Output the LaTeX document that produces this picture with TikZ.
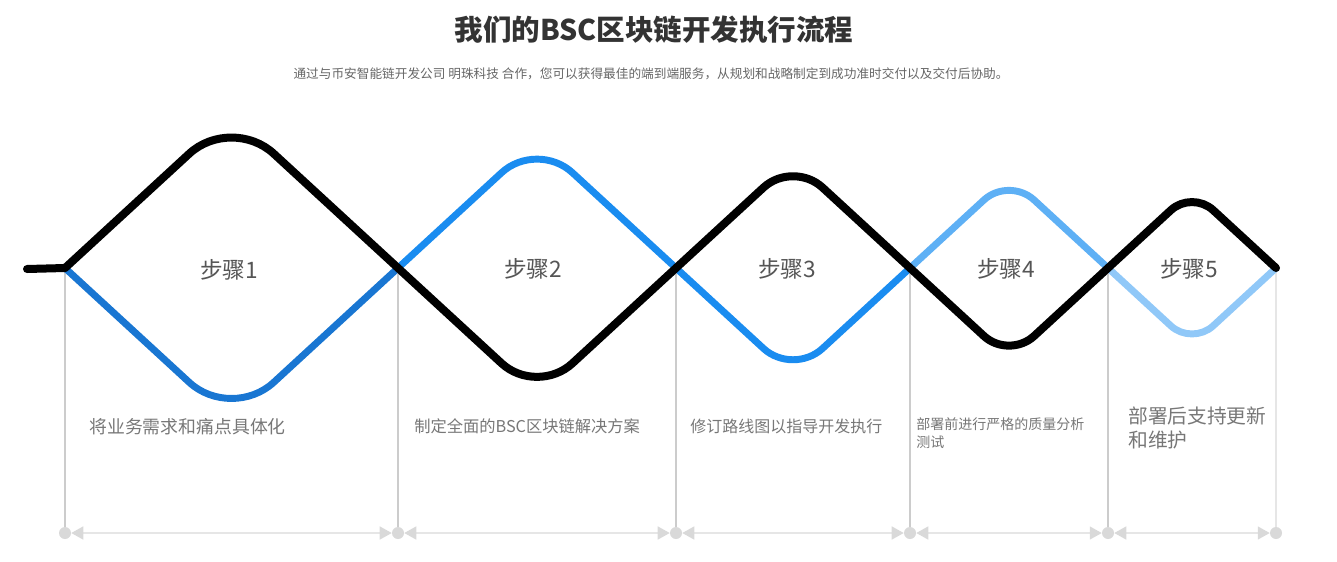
\documentclass[tikz,border=0pt]{standalone}
\usepackage{fontspec}
\setmainfont{Noto Sans CJK SC}
\usetikzlibrary{arrows.meta,calc}
\definecolor{blueA}{HTML}{1976D2}
\definecolor{blueB}{HTML}{1A8CF0}
\definecolor{blueC}{HTML}{5EB0F5}
\definecolor{blueD}{HTML}{90C8F8}
\definecolor{titlec}{HTML}{333333}
\definecolor{subc}{HTML}{666666}
\definecolor{stepc}{HTML}{555555}
\definecolor{descc}{HTML}{777777}
\definecolor{vgray}{HTML}{CCCCCC}
\definecolor{axgray}{HTML}{E6E6E6}
\definecolor{dotgray}{HTML}{D9D9D9}
\tikzset{
  wave/.style={line width=6pt, line cap=round, line join=round},
  bwave/.style={line width=5.2pt, line cap=round, line join=round},
  vline/.style={draw=vgray, line width=0.8pt},
  dot/.style={circle, fill=dotgray, minimum size=9pt, inner sep=0pt},
  axis/.style={draw=axgray, line width=1.1pt,
    {Triangle[length=9pt,width=9.75pt,color=dotgray,fill=dotgray]}-{Triangle[length=9pt,width=9.75pt,color=dotgray,fill=dotgray]}},
  steplabel/.style={text=stepc, font=\fontsize{17pt}{20pt}\selectfont, inner sep=0pt},
  desc/.style={text=descc, anchor=west, align=left, inner sep=0pt},
}
\begin{document}
\begin{tikzpicture}[x=0.75pt,y=-0.75pt]
\useasboundingbox (0,0) rectangle (1337,561);
% key points
\coordinate (s) at (27,269);
\coordinate (c0) at (65,268);
\coordinate (c1) at (398,268);
\coordinate (c2) at (676,268);
\coordinate (c3) at (910,268);
\coordinate (c4) at (1108,268);
\coordinate (c5) at (1276,268);
\coordinate (t1) at (231.5,114.8);  \coordinate (b1) at (231.5,421.2);
\coordinate (t2) at (537,140.1);    \coordinate (b2) at (537,395.9);
\coordinate (t3) at (793,160.4);    \coordinate (b3) at (793,375.6);
\coordinate (t4) at (1009,176.9);   \coordinate (b4) at (1009,359.1);
\coordinate (t5) at (1192,190.7);   \coordinate (b5) at (1192,345.3);

% axis dots
\foreach \i/\x in {1/65,2/398,3/676,4/910,5/1108,6/1276}
  \node[dot] (d\i) at (\x,533) {};
% vertical guides
\draw[vline] (c0) -- (d1);
\draw[vline] (c1) -- (d2);
\draw[vline] (c2) -- (d3);
\draw[vline] (c3) -- (d4);
\draw[vline] (c4) -- (d5);
\draw[vline, draw=axgray] (c5) -- (d6);
% axis segments
\draw[axis] (d1) -- (d2);
\draw[axis] (d2) -- (d3);
\draw[axis] (d3) -- (d4);
\draw[axis] (d4) -- (d5);
\draw[axis] (d5) -- (d6);

% blue waves
\draw[bwave, blueA, rounded corners=43pt] (c0) -- (b1) -- (c1);
\draw[bwave, blueB, rounded corners=36pt] (c1) -- (t2) -- (c2);
\draw[bwave, blueB, rounded corners=30pt] (c2) -- (b3) -- (c3);
\draw[bwave, blueC, rounded corners=25.5pt] (c3) -- (t4) -- (c4);
\draw[bwave, blueD, rounded corners=21.5pt] (c4) -- (b5) -- (c5);

% black wave
\draw[wave, black] (s) -- (c0);
\draw[wave, black, rounded corners=43pt] (c0) -- (t1) -- (c1);
\draw[wave, black, rounded corners=36pt] (c1) -- (b2) -- (c2);
\draw[wave, black, rounded corners=30pt] (c2) -- (t3) -- (c3);
\draw[wave, black, rounded corners=25.5pt] (c3) -- (b4) -- (c4);
\draw[wave, black, rounded corners=21.5pt] (c4) -- (t5) -- (c5);

% titles
\node[text=titlec, font=\bfseries\fontsize{21.4pt}{25pt}\selectfont, inner sep=0pt] (title) at (654,30) {我们的BSC区块链开发执行流程};
\node[text=subc, font=\fontsize{9.5pt}{12pt}\selectfont, inner sep=0pt] (sub) at (651,74) {通过与币安智能链开发公司 明珠科技 合作，您可以获得最佳的端到端服务，从规划和战略制定到成功准时交付以及交付后协助。};

% step labels
\node[steplabel] (s1) at (229,270) {步骤1};
\node[steplabel] (s2) at (533,269) {步骤2};
\node[steplabel] (s3) at (787,269) {步骤3};
\node[steplabel] (s4) at (1006,269) {步骤4};
\node[steplabel] (s5) at (1189,269) {步骤5};

% descriptions
\node[desc, font=\fontsize{13.4pt}{16pt}\selectfont] (e1) at (89,427) {将业务需求和痛点具体化};
\node[desc, font=\fontsize{12.2pt}{15pt}\selectfont] (e2) at (414,426) {制定全面的BSC区块链解决方案};
\node[desc, font=\fontsize{12pt}{15pt}\selectfont] (e3) at (690,426) {修订路线图以指导开发执行};
\node[desc, font=\fontsize{10.5pt}{13.2pt}\selectfont] (e4) at (916,433) {部署前进行严格的质量分析\\测试};
\node[desc, font=\fontsize{14.8pt}{17.5pt}\selectfont] (e5) at (1128,428) {部署后支持更新\\和维护};
\end{tikzpicture}
\end{document}
